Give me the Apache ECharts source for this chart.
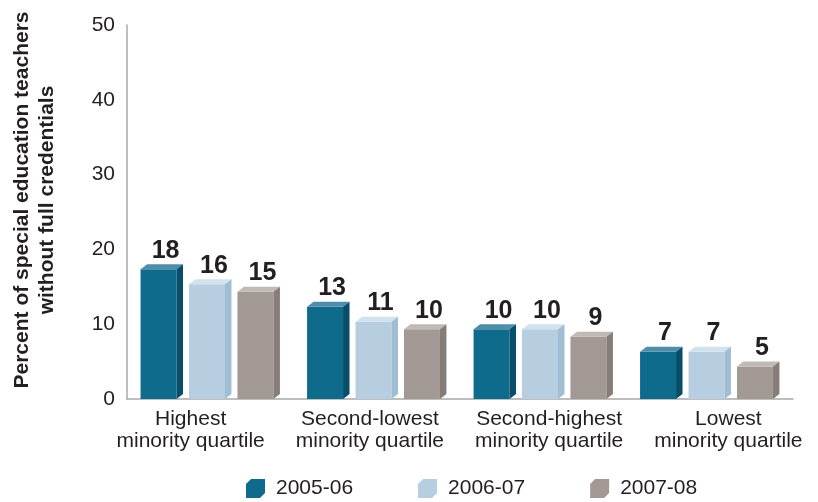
<!DOCTYPE html>
<html>
<head>
<meta charset="utf-8">
<script src="https://cdn.jsdelivr.net/npm/echarts@6/dist/echarts.min.js"></script>
<style>
html,body{margin:0;padding:0;background:#fff;}
#chart{width:818px;height:502px;}
</style>
</head>
<body>
<div id="chart"></div>
<script>
const categories = ['Highest\nminority quartile', 'Second-lowest\nminority quartile', 'Second-highest\nminority quartile', 'Lowest\nminority quartile'];
const seriesNames = ['2005-06', '2006-07', '2007-08'];
const values0506 = [18, 13, 10, 7];
const values0607 = [16, 11, 10, 7];
const values0708 = [15, 10, 9, 5];
const yTicks = [0, 10, 20, 30, 40, 50];
const yTitle = 'Percent of special education teachers\nwithout full credentials';

const seriesValues = [values0506, values0607, values0708];
const faceColors = [
  {front: '#0f6b8b', top: '#4f8eaa', side: '#084e6b'},
  {front: '#b6cedf', top: '#d2e2ed', side: '#9fbdd3'},
  {front: '#a29894', top: '#c1b9b5', side: '#867c78'}
];
const FONT = '"Liberation Sans", Arial, Helvetica, sans-serif';
const TEXT = '#231f20';
const AXIS = '#a7a9ac';

function renderBar(params, api) {
  const ci = api.value(0), v = api.value(1);
  const p = api.coord([ci, v]);
  const p0 = api.coord([ci, 0]);
  const band = api.size([1, 0])[0];
  const w = band * 0.216, d = band * 0.039, dy = 5;
  const step = band * 0.291;
  const si = params.seriesIndex;
  const c = faceColors[si];
  const cx = p[0] + (si - 1) * step;
  const xf = cx - (w + d) / 2;
  const yv = p[1], yb = p0[1];
  return {
    type: 'group',
    children: [
      {type: 'rect', shape: {x: xf, y: yv + dy, width: w, height: yb - (yv + dy)}, style: {fill: c.front}},
      {type: 'polygon', shape: {points: [[xf, yv + dy], [xf + d, yv], [xf + w + d, yv], [xf + w, yv + dy]]}, style: {fill: c.top}},
      {type: 'polygon', shape: {points: [[xf + w, yv + dy], [xf + w + d, yv], [xf + w + d, yb - dy], [xf + w, yb]]}, style: {fill: c.side}},
      {type: 'text', style: {text: String(v), x: xf + w / 2 + 7, y: yv - 1, align: 'center', verticalAlign: 'bottom', font: 'bold 25px ' + FONT, fill: TEXT}}
    ]
  };
}

const chart = echarts.init(document.getElementById('chart'), null, {renderer: 'canvas'});
const option = {
  backgroundColor: '#fff',
  animation: false,
  grid: [
    {left: 127, width: 666, top: 25, bottom: 103},
    {left: 101, width: 728, top: 25, bottom: 103}
  ],
  xAxis: [
    {type: 'category', gridIndex: 0, data: categories, boundaryGap: true,
     axisLine: {lineStyle: {color: AXIS, width: 1.5}}, axisTick: {show: false}, axisLabel: {show: false}},
    {type: 'category', gridIndex: 1, data: categories, boundaryGap: true,
     axisLine: {show: false}, axisTick: {show: false},
     axisLabel: {fontSize: 21, lineHeight: 22, color: TEXT, fontFamily: FONT, margin: 9, interval: 0}}
  ],
  yAxis: [
    {type: 'value', gridIndex: 0, min: yTicks[0], max: yTicks[yTicks.length - 1], interval: 10,
     axisLine: {show: true, lineStyle: {color: AXIS, width: 1.5}}, axisTick: {show: false}, splitLine: {show: false},
     axisLabel: {fontSize: 21, color: TEXT, fontFamily: FONT, margin: 12}},
    {type: 'value', gridIndex: 1, min: 0, max: 50, show: false}
  ],
  legend: {
    left: 246, top: 478, padding: 0, itemWidth: 19, itemHeight: 19, itemGap: 65,
    icon: 'path://M0,5L5,0L19,0L19,14L14,19L0,19Z',
    textStyle: {fontSize: 21, color: TEXT, fontFamily: FONT, padding: [0, 0, 0, 6]},
    data: seriesNames
  },
  graphic: [
    {type: 'text', x: 35, y: 200, rotation: Math.PI / 2,
     style: {text: yTitle, font: 'bold 21px ' + FONT, align: 'center', verticalAlign: 'middle', lineHeight: 25, fill: TEXT}}
  ],
  series: seriesNames.map((name, i) => ({
    name: name,
    type: 'custom',
    xAxisIndex: 0, yAxisIndex: 0,
    itemStyle: {color: faceColors[i].front},
    renderItem: renderBar,
    encode: {x: 0, y: 1},
    data: seriesValues[i].map((v, k) => [k, v])
  }))
};
chart.setOption(option);
</script>
</body>
</html>
